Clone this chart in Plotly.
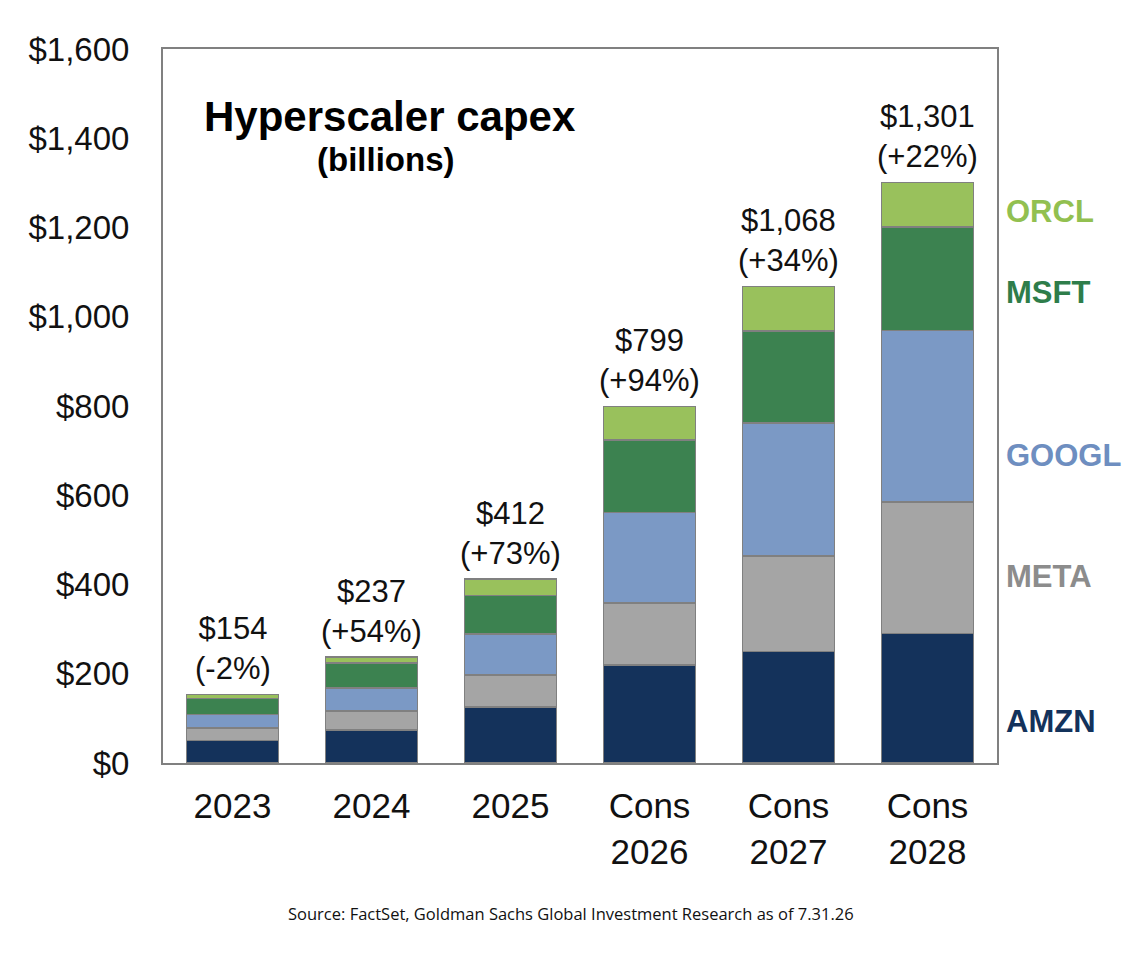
import plotly.graph_objects as go

# hyperscaler capex, $ billions
years = ['2023', '2024', '2025', 'Cons<br>2026', 'Cons<br>2027', 'Cons<br>2028']
amzn = [50, 74, 125, 220, 250, 290]
meta = [28, 42, 72, 139, 214, 295]
googl = [31, 52, 92, 202, 298, 384]
msft = [35, 56, 86, 163, 206, 232]
orcl = [10, 13, 37, 75, 100, 100]
totals = [154, 237, 412, 799, 1068, 1301]
growth = ['-2%', '+54%', '+73%', '+94%', '+34%', '+22%']

series = [
    ('AMZN', amzn, '#14325B', '#13325B', 94),
    ('META', meta, '#A5A5A5', '#8C8C8C', 417),
    ('GOOGL', googl, '#7B99C5', '#6E8EC0', 690),
    ('MSFT', msft, '#3C8250', '#2E7D4A', 1055),
    ('ORCL', orcl, '#99C15C', '#92C050', 1235),
]

fig = go.Figure()
for name, vals, col, txtcol, ypos in series:
    fig.add_trace(go.Bar(x=years, y=vals, name=name, marker_color=col,
                         marker_line=dict(color='#808080', width=1.5)))

annots = []
# category index, since '2023' etc would be read as an index otherwise
for i, (t, g) in enumerate(zip(totals, growth)):
    annots.append(dict(x=i, y=t, text='${:,}<br>({})'.format(t, g), showarrow=False,
                       xanchor='center', yanchor='bottom', yshift=6,
                       font=dict(size=31, color='#111')))

# company labels to the right of the plot
for name, vals, col, txtcol, ypos in series:
    annots.append(dict(x=1.0, xref='paper', y=ypos, text='<b>' + name + '</b>', showarrow=False,
                       xanchor='left', xshift=7, font=dict(size=31, color=txtcol)))

annots.append(dict(x=0.272, xref='paper', y=1.0, yref='paper', yshift=-67,
                   xanchor='center', yanchor='middle',
                   text='<b>Hyperscaler capex</b>', showarrow=False,
                   font=dict(size=42, color='#000')))
annots.append(dict(x=0.267, xref='paper', y=1.0, yref='paper', yshift=-110,
                   xanchor='center', yanchor='middle',
                   text='<b>(billions)</b>', showarrow=False,
                   font=dict(size=33, color='#000')))
annots.append(dict(x=0.5, xref='paper', y=-0.2113, yref='paper', yanchor='middle',
                   xanchor='center', xshift=-9,
                   text='Source: FactSet, Goldman Sachs Global Investment Research as of 7.31.26',
                   showarrow=False, font=dict(family='Open Sans', size=16.5, color='#111')))

fig.update_layout(
    barmode='stack',
    bargap=0.34,
    width=1136, height=954,
    margin=dict(l=155, r=147, t=41, b=199),
    paper_bgcolor='white', plot_bgcolor='white',
    showlegend=False,
    font=dict(family='Arial, Liberation Sans, sans-serif', color='#111'),
    annotations=annots,
    xaxis=dict(type='category', range=[-0.5, 5.5], showline=True, mirror=True,
               linecolor='#808080', linewidth=2,
               tickfont=dict(size=35), ticks='', ticklabelstandoff=11),
    yaxis=dict(range=[0, 1600], dtick=200, tickprefix='$', tickformat=',',
               showgrid=False, zeroline=False, showline=True, mirror=True,
               linecolor='#808080', linewidth=2, ticks='',
               tickfont=dict(size=33), ticklabelstandoff=25),
)

fig.write_html('out.html')
